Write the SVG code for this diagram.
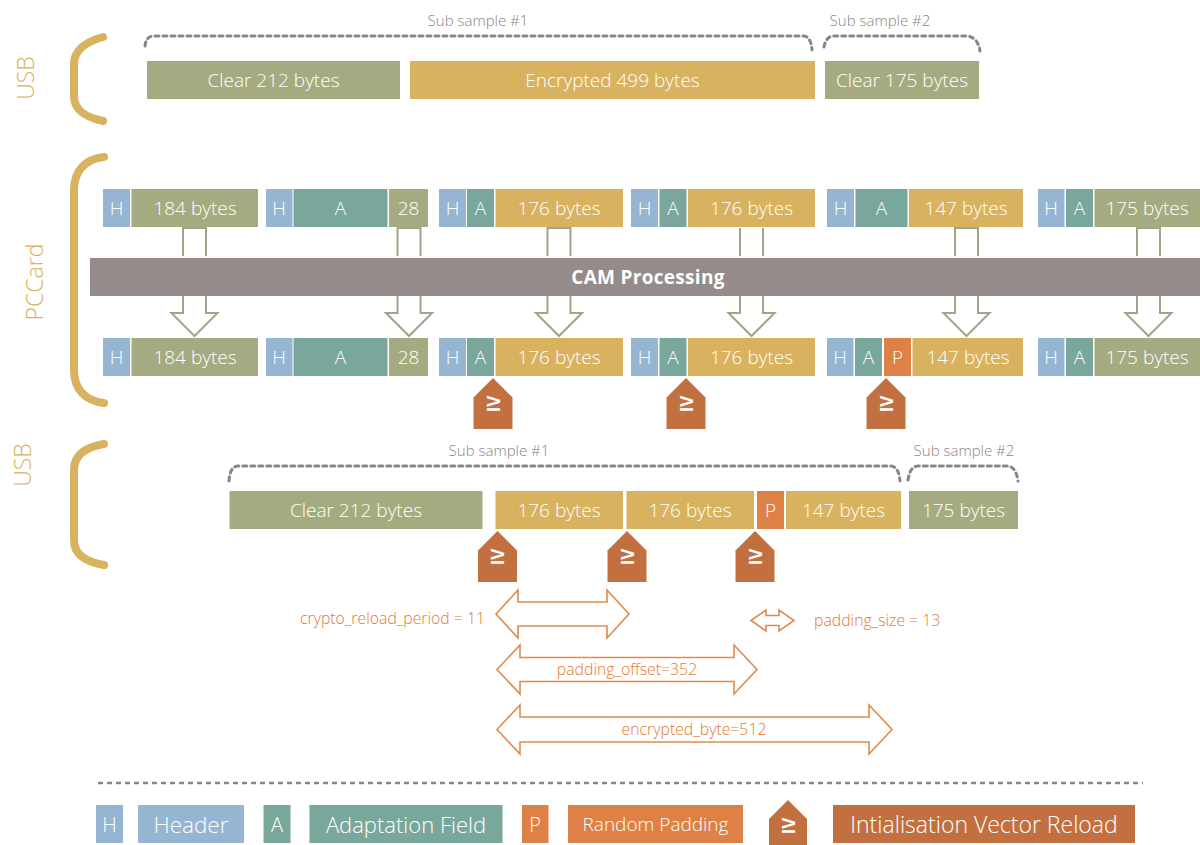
<svg xmlns="http://www.w3.org/2000/svg" width="1200" height="845" viewBox="0 0 1200 845">
<style>
text{font-family:"Open Sans","Noto Sans","Liberation Sans",sans-serif;font-weight:300}
.lbl{fill:#fff;font-size:19px;text-anchor:middle;dominant-baseline:central}
.h{fill:#95b5d3}.a{fill:#7aa79b}.g{fill:#a5ab80}.y{fill:#d8b25e}.p{fill:#de8146}.ivf{fill:#c27040}
.ivt{fill:#fff;font-size:17px;font-weight:700;text-anchor:middle;dominant-baseline:central}
.side{fill:#d8b25e;font-size:23px;text-anchor:middle}
.sub{fill:#8a8383;font-size:15px;text-anchor:middle}
.brace{fill:none;stroke:#8a8585;stroke-width:3;stroke-dasharray:4 4;stroke-linecap:round}
.bracket{fill:none;stroke:#d8b25e;stroke-width:8;stroke-linecap:round}
.flow{fill:#fff;stroke:#9da68a;stroke-width:2}
.flowl{fill:none;stroke:#9da68a;stroke-width:2}
.dim{fill:#fff;stroke:#e08a4a;stroke-width:1.6}
.dimt{fill:#e3792f;font-size:15.8px}
.leg{fill:#fff;text-anchor:middle;dominant-baseline:central}
</style>

<g id="side-labels">
<text class="side" transform="translate(34,78) rotate(-90)">USB</text>
<text class="side" transform="translate(43,282) rotate(-90)">PCCard</text>
<text class="side" transform="translate(31,465) rotate(-90)">USB</text>
<path class="bracket" d="M103,37 C85,42 74,50 74,64 L74,96 C74,110 85,117 103,121"/>
<path class="bracket" d="M104,157 C86,159 74,170 74,190 L74,370 C74,390 86,401 104,403"/>
<path class="bracket" d="M104,444 C86,447 74,455 74,470 L74,540 C74,555 86,562 104,565"/>
</g>

<g id="usb-top">
<path class="brace" d="M145,46 Q146,36 154,36 L804,36 Q811,37 812,50"/>
<text class="sub" x="478" y="26">Sub sample #1</text>
<path class="brace" d="M824,47 Q826,36 834,36 L968,36 Q978,38 980,51"/>
<text class="sub" x="880" y="26">Sub sample #2</text>
<rect class="g" x="147" y="61" width="253" height="38"/><text class="lbl" x="273.5" y="80">Clear 212 bytes</text>
<rect class="y" x="410" y="61" width="405" height="38"/><text class="lbl" x="612.5" y="80">Encrypted 499 bytes</text>
<rect class="g" x="825" y="61" width="154" height="38"/><text class="lbl" x="902" y="80">Clear 175 bytes</text>
</g>

<g id="pccard-in">
<rect class="h" x="103" y="189" width="27" height="38"/><text class="lbl" x="116.5" y="208">H</text>
<rect class="g" x="131.5" y="189" width="126.5" height="38"/><text class="lbl" x="195" y="208">184 bytes</text>
<rect class="h" x="266" y="189" width="26.5" height="38"/><text class="lbl" x="279" y="208">H</text>
<rect class="a" x="293.5" y="189" width="94" height="38"/><text class="lbl" x="340.5" y="208">A</text>
<rect class="g" x="389" y="189" width="39" height="38"/><text class="lbl" x="408.5" y="208">28</text>
<rect class="h" x="439" y="189" width="27" height="38"/><text class="lbl" x="452.5" y="208">H</text>
<rect class="a" x="467" y="189" width="27" height="38"/><text class="lbl" x="480.5" y="208">A</text>
<rect class="y" x="495.5" y="189" width="127.5" height="38"/><text class="lbl" x="559" y="208">176 bytes</text>
<rect class="h" x="631" y="189" width="27" height="38"/><text class="lbl" x="644.5" y="208">H</text>
<rect class="a" x="659.5" y="189" width="27" height="38"/><text class="lbl" x="673" y="208">A</text>
<rect class="y" x="688" y="189" width="127" height="38"/><text class="lbl" x="751.5" y="208">176 bytes</text>
<rect class="h" x="827" y="189" width="27" height="38"/><text class="lbl" x="840.5" y="208">H</text>
<rect class="a" x="855.5" y="189" width="52" height="38"/><text class="lbl" x="881.5" y="208">A</text>
<rect class="y" x="909" y="189" width="114" height="38"/><text class="lbl" x="966" y="208">147 bytes</text>
<rect class="h" x="1038" y="189" width="26.5" height="38"/><text class="lbl" x="1051" y="208">H</text>
<rect class="a" x="1066" y="189" width="27" height="38"/><text class="lbl" x="1079.5" y="208">A</text>
<rect class="g" x="1094.5" y="189" width="106" height="38"/><text class="lbl" x="1147" y="208">175 bytes</text>
</g>

<g id="cam">
<rect x="90" y="258" width="1110" height="38" fill="#958b8a"/>
<text x="648" y="277" fill="#fff" font-size="19" text-anchor="middle" dominant-baseline="central" style="font-weight:700;letter-spacing:0.3px">CAM Processing</text>
</g>

<g id="connectors">
<path class="flowl" d="M183,256 V228 H206 V256"/>
<path class="flowl" d="M397.5,256 V228 H420.5 V256"/>
<path class="flowl" d="M547.5,256 V228 H570.5 V256"/>
<path class="flowl" d="M740,256 V228 M763,228 V256"/>
<path class="flowl" d="M955,256 V228 H978 V256"/>
<path class="flowl" d="M1137,256 V228 H1160 V256"/>
<path class="flow" d="M183,296 V313 H171.5 L194.5,336 L217.5,313 H206 V296"/>
<path class="flow" d="M397.5,296 V313 H386 L409,336 L432,313 H420.5 V296"/>
<path class="flow" d="M547.5,296 V313 H536 L559,336 L582,313 H570.5 V296"/>
<path class="flow" d="M740,296 V313 H728.5 L751.5,336 L774.5,313 H763 V296"/>
<path class="flow" d="M955,296 V313 H943.5 L966.5,336 L989.5,313 H978 V296"/>
<path class="flow" d="M1137,296 V313 H1125.5 L1148.5,336 L1171.5,313 H1160 V296"/>
</g>

<g id="pccard-out">
<rect class="h" x="103" y="338" width="27" height="38"/><text class="lbl" x="116.5" y="357">H</text>
<rect class="g" x="131.5" y="338" width="126.5" height="38"/><text class="lbl" x="195" y="357">184 bytes</text>
<rect class="h" x="266" y="338" width="26.5" height="38"/><text class="lbl" x="279" y="357">H</text>
<rect class="a" x="293.5" y="338" width="94" height="38"/><text class="lbl" x="340.5" y="357">A</text>
<rect class="g" x="389" y="338" width="39" height="38"/><text class="lbl" x="408.5" y="357">28</text>
<rect class="h" x="439" y="338" width="27" height="38"/><text class="lbl" x="452.5" y="357">H</text>
<rect class="a" x="467" y="338" width="27" height="38"/><text class="lbl" x="480.5" y="357">A</text>
<rect class="y" x="495.5" y="338" width="127.5" height="38"/><text class="lbl" x="559" y="357">176 bytes</text>
<rect class="h" x="631" y="338" width="27" height="38"/><text class="lbl" x="644.5" y="357">H</text>
<rect class="a" x="659.5" y="338" width="27" height="38"/><text class="lbl" x="673" y="357">A</text>
<rect class="y" x="688" y="338" width="127" height="38"/><text class="lbl" x="751.5" y="357">176 bytes</text>
<rect class="h" x="827" y="338" width="26.5" height="38"/><text class="lbl" x="840" y="357">H</text>
<rect class="a" x="855" y="338" width="27" height="38"/><text class="lbl" x="868.5" y="357">A</text>
<rect class="p" x="884" y="338" width="27" height="38"/><text class="lbl" x="897.5" y="357">P</text>
<rect class="y" x="912.5" y="338" width="110.5" height="38"/><text class="lbl" x="968" y="357">147 bytes</text>
<rect class="h" x="1038" y="338" width="26.5" height="38"/><text class="lbl" x="1051" y="357">H</text>
<rect class="a" x="1066" y="338" width="27" height="38"/><text class="lbl" x="1079.5" y="357">A</text>
<rect class="g" x="1094.5" y="338" width="106" height="38"/><text class="lbl" x="1147" y="357">175 bytes</text>
</g>

<g id="iv-pccard">
<path class="ivf" d="M493,378 L512.5,397.5 V429 H473.5 V397.5 Z"/><text class="ivt" transform="translate(493,404) rotate(-90)">IV</text>
<path class="ivf" d="M686,378 L705.5,397.5 V429 H666.5 V397.5 Z"/><text class="ivt" transform="translate(686,404) rotate(-90)">IV</text>
<path class="ivf" d="M886,378 L905.5,397.5 V429 H866.5 V397.5 Z"/><text class="ivt" transform="translate(886,404) rotate(-90)">IV</text>
</g>

<g id="usb-bottom">
<path class="brace" d="M229,481 Q230,466 238,466 L891,466 Q899,467 900,481"/>
<text class="sub" x="499" y="456">Sub sample #1</text>
<path class="brace" d="M908,480 Q910,466 918,466 L1008,466 Q1016,467 1018,481"/>
<text class="sub" x="964" y="456">Sub sample #2</text>
<rect class="g" x="229.5" y="491" width="253" height="38"/><text class="lbl" x="356" y="510">Clear 212 bytes</text>
<rect class="y" x="495.5" y="491" width="127.5" height="38"/><text class="lbl" x="559" y="510">176 bytes</text>
<rect class="y" x="626.5" y="491" width="127.5" height="38"/><text class="lbl" x="690" y="510">176 bytes</text>
<rect class="p" x="757" y="491" width="27" height="38"/><text class="lbl" x="770.5" y="510">P</text>
<rect class="y" x="786" y="491" width="115" height="38"/><text class="lbl" x="843.5" y="510">147 bytes</text>
<rect class="g" x="909" y="491" width="109" height="38"/><text class="lbl" x="963.5" y="510">175 bytes</text>
</g>

<g id="iv-usb">
<path class="ivf" d="M497.5,531 L517,550.5 V582 H478 V550.5 Z"/><text class="ivt" transform="translate(497.5,557) rotate(-90)">IV</text>
<path class="ivf" d="M627,531 L646.5,550.5 V582 H607.5 V550.5 Z"/><text class="ivt" transform="translate(627,557) rotate(-90)">IV</text>
<path class="ivf" d="M755,531 L774.5,550.5 V582 H735.5 V550.5 Z"/><text class="ivt" transform="translate(755,557) rotate(-90)">IV</text>
</g>

<g id="dimensions">
<path class="dim" d="M496,614 L518,590 V602 H607 V590 L629,614 L607,638 V626 H518 V638 Z"/>
<text class="dimt" x="485" y="624" text-anchor="end">crypto_reload_period = 11</text>
<path class="dim" d="M751,620.5 L766,610 V615.5 H779 V610 L794,620.5 L779,631 V625.5 H766 V631 Z"/>
<text class="dimt" x="814" y="626">padding_size = 13</text>
<path class="dim" d="M497,669.5 L520,645 V657.5 H734 V645 L757,669.5 L734,694 V681.5 H520 V694 Z"/>
<text class="dimt" x="627" y="675" text-anchor="middle">padding_offset=352</text>
<path class="dim" d="M497,729.5 L520,705 V717 H869 V705 L892,729.5 L869,754 V742 H520 V754 Z"/>
<text class="dimt" x="694" y="735" text-anchor="middle">encrypted_byte=512</text>
</g>

<g id="legend">
<line x1="98" y1="783" x2="1143" y2="783" stroke="#8a8585" stroke-width="2.5" stroke-dasharray="5 4"/>
<rect class="h" x="96" y="805" width="27" height="38"/><text class="leg" x="109.5" y="824" font-size="20">H</text>
<rect class="h" x="138" y="805" width="106" height="38"/><text class="leg" x="191" y="824" font-size="22.5">Header</text>
<rect class="a" x="263.5" y="805" width="27" height="38"/><text class="leg" x="277" y="824" font-size="20">A</text>
<rect class="a" x="309.5" y="805" width="193" height="38"/><text class="leg" x="406" y="824" font-size="22">Adaptation Field</text>
<rect class="p" x="522" y="805" width="26.5" height="38"/><text class="leg" x="535" y="824" font-size="20">P</text>
<rect class="p" x="568" y="805" width="175" height="38"/><text class="leg" x="655.5" y="824" font-size="19">Random Padding</text>
<path class="ivf" d="M788,800 L807,819 V845 H769 V819 Z"/><text class="ivt" transform="translate(788,826) rotate(-90)">IV</text>
<rect class="ivf" x="833" y="805" width="302" height="38"/><text class="leg" x="984" y="824" font-size="23">Intialisation Vector Reload</text>
</g>
</svg>
